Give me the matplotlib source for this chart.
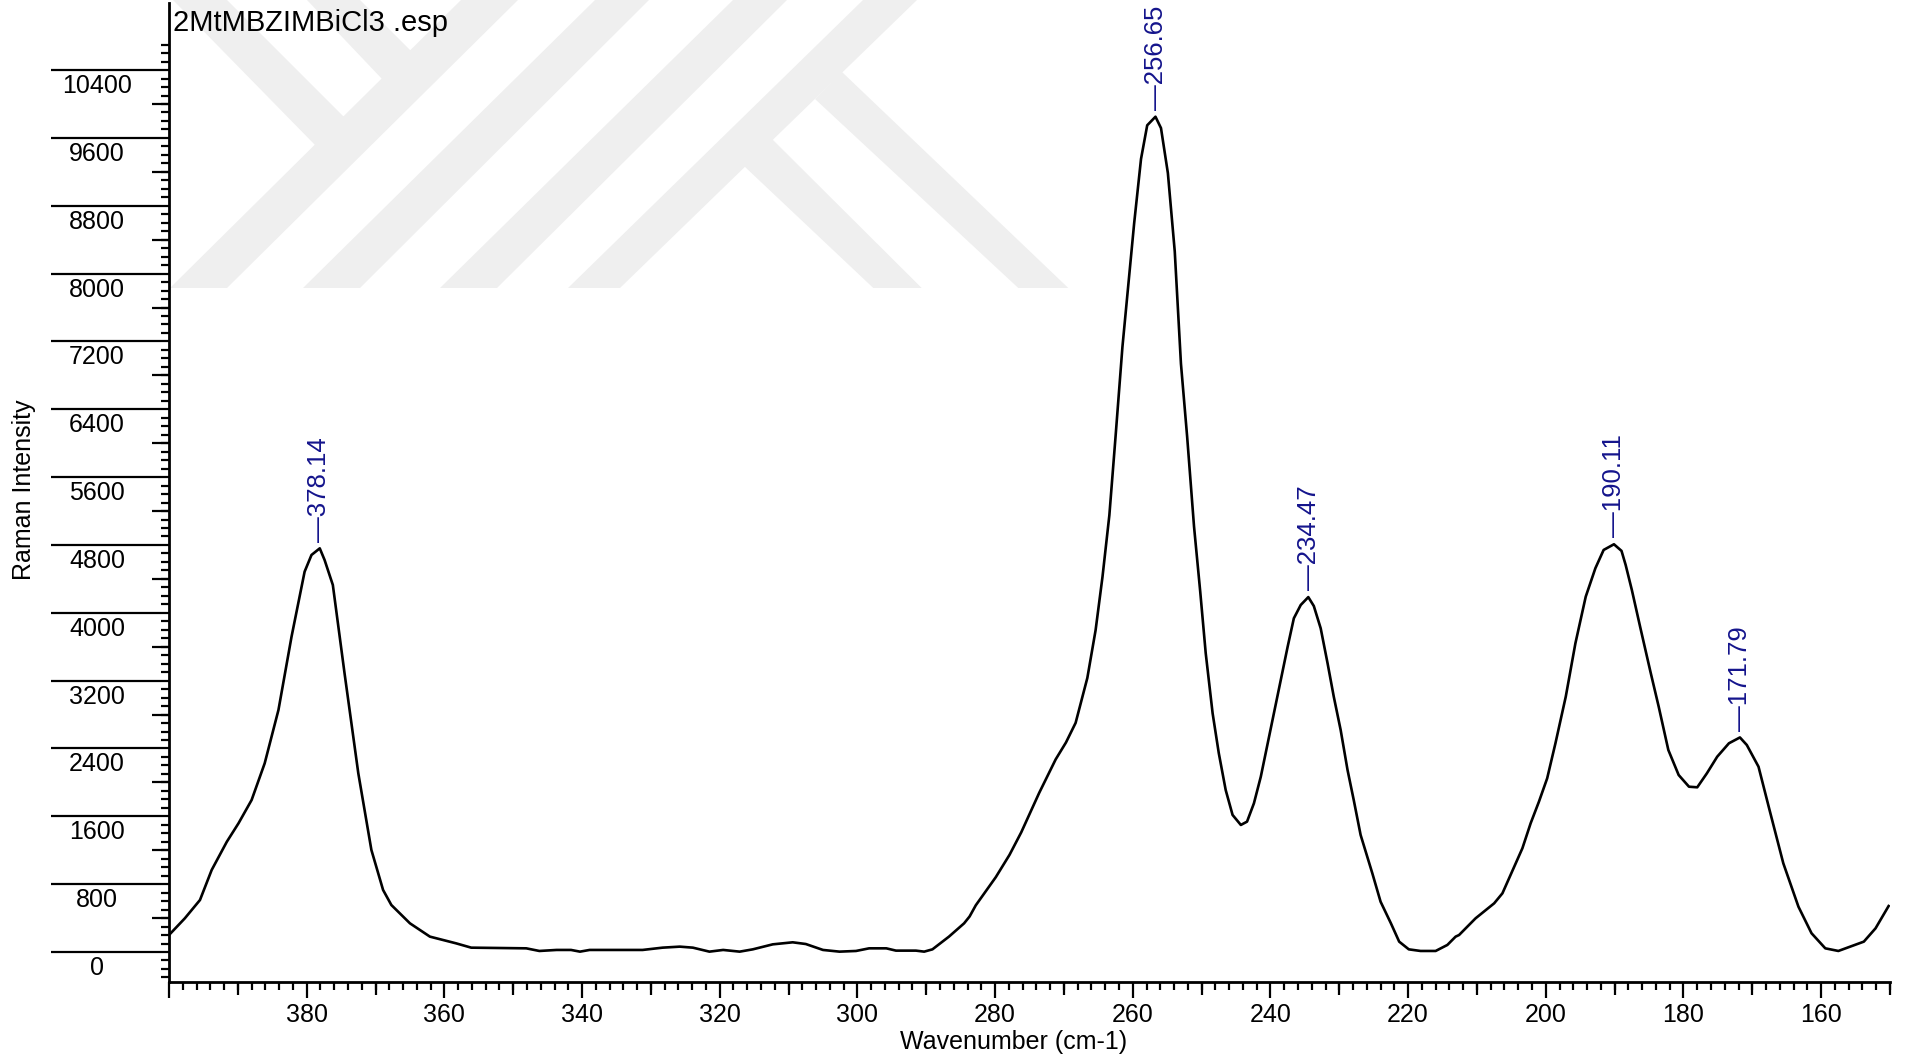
# =====================================
# IMPORT LIBRARIES
# =====================================
import numpy as np
import matplotlib
matplotlib.use("Agg")
import matplotlib.pyplot as plt
from matplotlib.patches import Polygon
from matplotlib.markers import TICKDOWN, TICKLEFT
from matplotlib.transforms import offset_copy

plt.rcParams['font.family'] = ['Liberation Sans', 'DejaVu Sans']
plt.rcParams['font.size'] = 18

# =====================================
# DATA
# =====================================
wavenumber = [
    400.0, 397.7, 395.5, 393.8, 391.6, 389.9, 388.0, 386.1, 384.1, 382.2,
    380.3, 379.3, 378.1, 377.4, 376.2, 374.5, 372.5, 370.6, 368.9, 367.7,
    365.0, 362.1, 358.3, 356.1, 348.1, 346.2, 343.7, 341.6, 340.3, 338.9,
    331.2, 328.3, 325.8, 323.9, 321.5, 319.5, 317.1, 315.2, 312.3, 309.4,
    307.5, 305.0, 302.6, 300.2, 298.3, 295.8, 294.4, 291.5, 290.3, 289.1,
    286.7, 284.5, 283.7, 282.8, 279.9, 277.9, 276.2, 273.6, 271.2, 269.7,
    268.3, 266.6, 265.4, 264.4, 263.4, 262.5, 261.5, 260.5, 259.8, 258.8,
    257.9, 256.7, 255.9, 254.9, 253.9, 253.0, 252.1, 251.1, 250.2, 249.4,
    248.4, 247.5, 246.5, 245.5, 244.3, 243.4, 242.4, 241.4, 240.2, 238.8,
    237.5, 236.6, 235.6, 234.5, 233.7, 232.7, 231.7, 230.8, 229.8, 228.8,
    227.9, 226.9, 225.2, 224.0, 222.5, 221.3, 219.9, 218.2, 216.0, 214.3,
    213.1, 212.6, 210.2, 207.5, 206.3, 204.9, 203.4, 202.2, 201.0, 199.8,
    198.6, 197.1, 195.7, 194.2, 192.8, 191.6, 190.1, 189.0, 188.4, 187.5,
    186.3, 184.8, 183.6, 182.2, 180.7, 179.2, 178.0, 176.6, 175.1, 173.4,
    171.8, 170.8, 169.1, 167.5, 165.5, 163.3, 161.4, 159.4, 157.5, 153.8,
    152.1, 150.2,
]
intensity = [
    200, 397, 613, 967, 1300, 1518, 1792, 2225, 2854, 3718,
    4485, 4682, 4760, 4623, 4328, 3287, 2107, 1203, 731, 554,
    338, 181, 102, 51, 43, 12, 24, 24, 4, 24,
    24, 51, 63, 51, 4, 24, 4, 31, 90, 114,
    94, 24, 4, 12, 43, 43, 16, 16, 4, 31,
    181, 338, 419, 551, 882, 1146, 1411, 1875, 2271, 2471,
    2702, 3231, 3794, 4422, 5150, 6077, 7136, 7995, 8591, 9352,
    9749, 9850, 9716, 9186, 8261, 6937, 6077, 5017, 4250, 3522,
    2815, 2343, 1910, 1616, 1498, 1537, 1753, 2067, 2539, 3090,
    3600, 3935, 4092, 4185, 4080, 3817, 3404, 3011, 2618, 2146,
    1792, 1380, 928, 593, 338, 122, 31, 12, 12, 83,
    181, 200, 397, 574, 692, 947, 1223, 1518, 1772, 2048,
    2461, 3011, 3640, 4190, 4525, 4741, 4808, 4730, 4564, 4269,
    3836, 3305, 2893, 2382, 2087, 1949, 1942, 2107, 2303, 2461,
    2530, 2441, 2185, 1675, 1046, 534, 221, 43, 12, 122,
    279, 542,
]

peaks = [378.14, 256.65, 234.47, 190.11, 171.79]

x_tick_vals = [400, 380, 360, 340, 320, 300, 280, 260, 240, 220, 200, 180, 160]
x_tick_labels = ['', '380', '360', '340', '320', '300', '280', '260', '240',
                 '220', '200', '180', '160']
y_tick_vals = [0, 800, 1600, 2400, 3200, 4000, 4800, 5600, 6400, 7200,
               8000, 8800, 9600, 10400]

title = "2MtMBZIMBiCl3 .esp"
peak_color = '#14148c'

# =====================================
# FIGURE
# =====================================
W, H = 1906, 1061
fig = plt.figure(figsize=(W / 100, H / 100), dpi=100)
ax = fig.add_axes([169 / W, 1 - 982 / H, (1890 - 169) / W, (982 - 3) / H])
ax.patch.set_alpha(0)

# watermark in the background (pixel outline of the grey stripes)
watermark = [
    [(170, 288), (227, 288), (518, 0), (461, 0)],
    [(173, 0), (227, 0), (345, 118), (316, 146)],
    [(307, 0), (360, 0), (414, 54), (383, 80)],
    [(303, 288), (360, 288), (649, 0), (595, 0)],
    [(440, 288), (497, 288), (787, 0), (733, 0)],
    [(568, 288), (620, 288), (917, 0), (863, 0)],
    [(744, 166), (772, 139), (921.7, 288), (873.3, 288)],
    [(815, 99), (842, 72), (1068.3, 288), (1018.3, 288)],
]
for shape in watermark:
    pts = [(px / W, 1 - py / H) for px, py in shape]
    ax.add_patch(Polygon(pts, closed=True, transform=fig.transFigure,
                         facecolor='#efefef', edgecolor='none',
                         zorder=0, clip_on=False))

# =====================================
# SPECTRUM
# =====================================
ax.plot(wavenumber, intensity, color='black', lw=1.9, zorder=3)

ax.set_xlim(400, 150)
ax.set_ylim(-354, 11191)

# peak labels
wn_asc = np.array(wavenumber)[::-1]
it_asc = np.array(intensity)[::-1]
for p in peaks:
    py = np.interp(p, wn_asc, it_asc)
    ax.annotate("\u2014" + f"{p:.2f}", xy=(p, py), xytext=(0, 5),
                textcoords='offset points', rotation=90, ha='center',
                va='bottom', color=peak_color, fontsize=18.5, zorder=4)

# =====================================
# AXES STYLE
# =====================================
for s in ['top', 'right']:
    ax.spines[s].set_visible(False)
for s in ['left', 'bottom']:
    ax.spines[s].set_linewidth(2)

ax.set_xticks(x_tick_vals)
ax.set_xticklabels(x_tick_labels)
ax.set_xticks(np.arange(150, 401, 2), minor=True)
ax.tick_params(axis='x', which='major', length=11.5, width=1.6, pad=3.6,
               labelsize=18)
ax.tick_params(axis='x', which='minor', length=5.8, width=1.6)

ax.set_yticks(y_tick_vals)
ax.set_yticklabels([])
ax.set_yticks(np.arange(-300, 10701, 100), minor=True)
ax.tick_params(axis='y', which='major', length=85, width=1.6)
ax.tick_params(axis='y', which='minor', length=5.8, width=1.6)

# medium ticks
x_mid = [v for v in range(150, 401, 10) if v % 20 != 0]
ax.plot(x_mid, np.zeros(len(x_mid)), transform=ax.get_xaxis_transform(),
        marker=TICKDOWN, ms=9.4, mew=1.6, ls='none', color='black',
        clip_on=False)
y_mid = [v for v in range(400, 10401, 800)]
ax.plot(np.zeros(len(y_mid)), y_mid, transform=ax.get_yaxis_transform(),
        marker=TICKLEFT, ms=12.2, mew=1.6, ls='none', color='black',
        clip_on=False)

# y tick labels sit under the long tick lines
lab_tr = offset_copy(ax.get_yaxis_transform(), fig=fig, x=-72, y=-23,
                     units='dots')
for v in y_tick_vals:
    ax.text(0, v, str(v), transform=lab_tr, ha='center', va='baseline',
            fontsize=18)

ax.set_xlabel("Wavenumber (cm-1)", fontsize=18)
ax.xaxis.set_label_coords((1014 - 169) / 1721, -(1042 - 982) / 979)
ax.xaxis.label.set_va('center')
ax.set_ylabel("Raman Intensity", fontsize=18)
ax.yaxis.set_label_coords((24 - 169) / 1721, (982 - 490) / 979)
ax.yaxis.label.set_va('center')

fig.text(173 / W, 1 - 31 / H, title, ha='left', va='baseline', fontsize=21)

fig.savefig("out.png", dpi=100)
